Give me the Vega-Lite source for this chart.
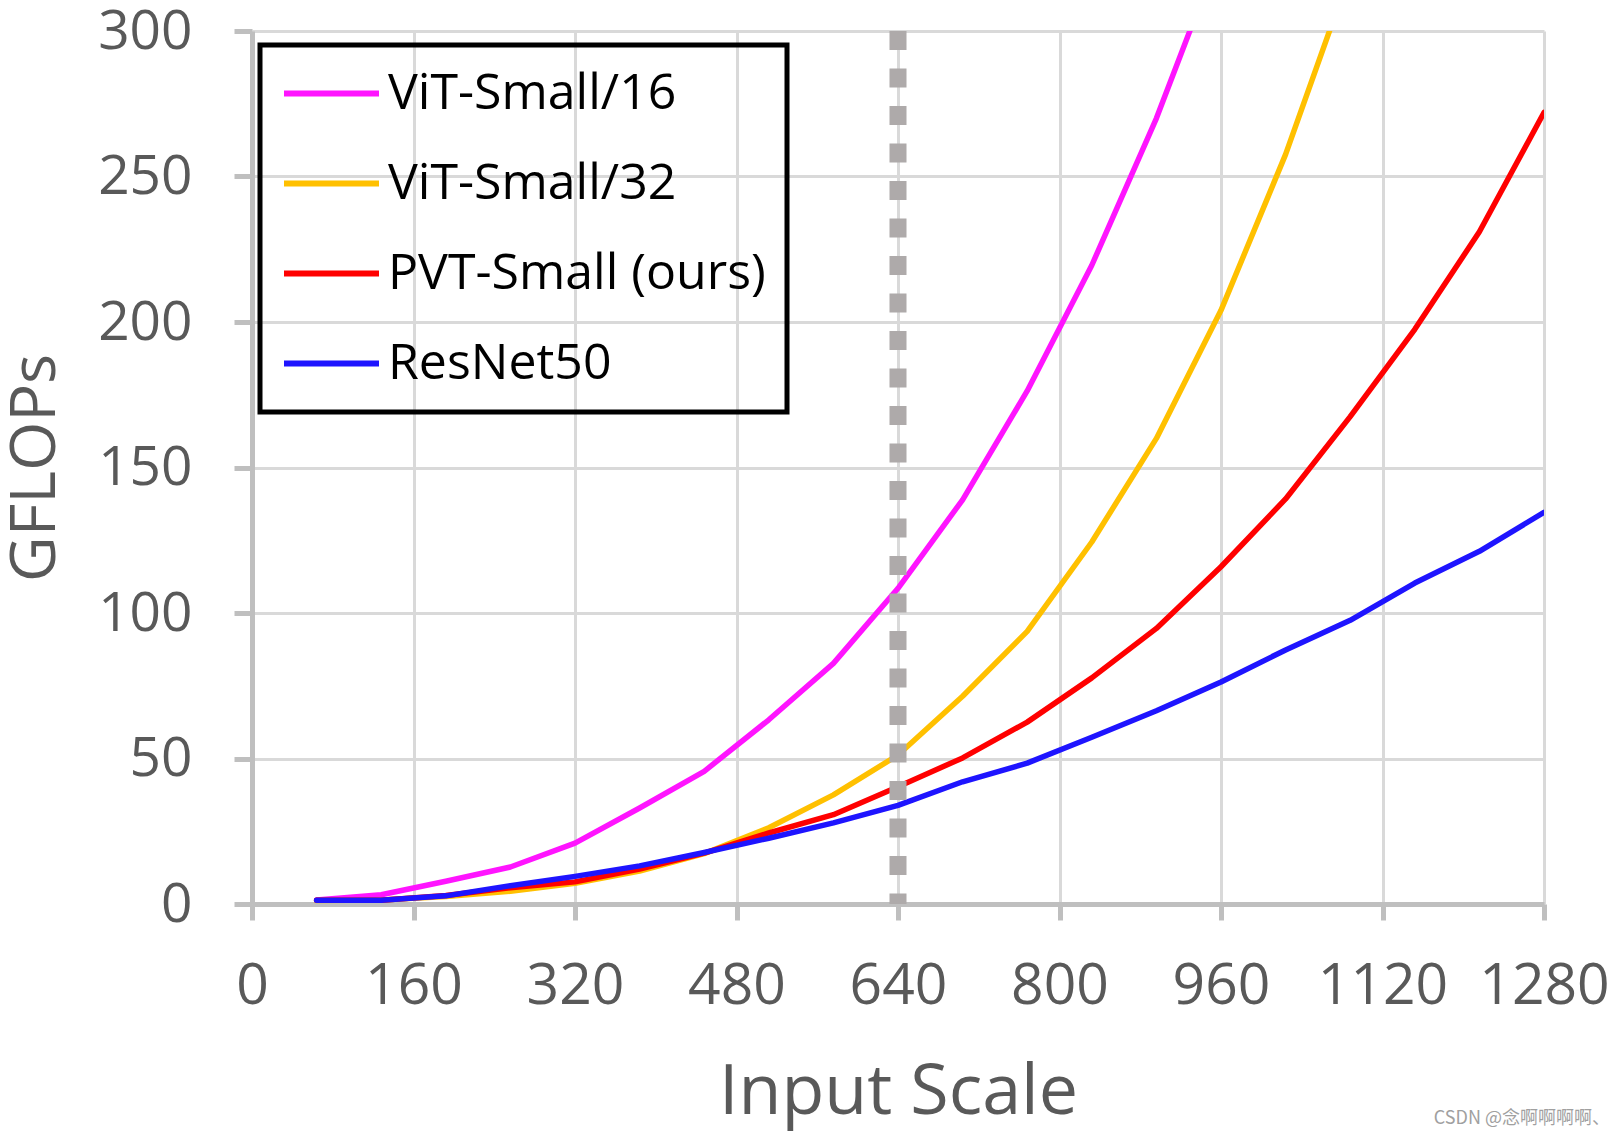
{
  "$schema": "https://vega.github.io/schema/vega-lite/v6.json",
  "width": 1292,
  "height": 873,
  "autosize": {"type": "none"},
  "padding": {"left": 252, "top": 31, "right": 68, "bottom": 233},
  "background": "white",
  "config": {"view": {"stroke": null}},
  "title": {"text": "CSDN @念啊啊啊啊、", "orient": "bottom", "anchor": "end", "frame": "group", "fontSize": 18, "font": "Noto Sans CJK SC", "fontWeight": "normal", "color": "#a0a0a0", "dx": 66, "dy": -21},
  "datasets": {
    "flops": [
      {"model": "ViT-Small/16", "scale": 64, "gflops": 1.4},
      {"model": "ViT-Small/16", "scale": 128, "gflops": 3.2},
      {"model": "ViT-Small/16", "scale": 192, "gflops": 7.8},
      {"model": "ViT-Small/16", "scale": 256, "gflops": 12.7},
      {"model": "ViT-Small/16", "scale": 320, "gflops": 20.9},
      {"model": "ViT-Small/16", "scale": 384, "gflops": 33.0},
      {"model": "ViT-Small/16", "scale": 448, "gflops": 45.6},
      {"model": "ViT-Small/16", "scale": 512, "gflops": 63.3},
      {"model": "ViT-Small/16", "scale": 576, "gflops": 82.7},
      {"model": "ViT-Small/16", "scale": 640, "gflops": 108.5},
      {"model": "ViT-Small/16", "scale": 704, "gflops": 138.9},
      {"model": "ViT-Small/16", "scale": 768, "gflops": 176.3},
      {"model": "ViT-Small/16", "scale": 832, "gflops": 219.5},
      {"model": "ViT-Small/16", "scale": 896, "gflops": 270.0},
      {"model": "ViT-Small/16", "scale": 960, "gflops": 328.0},
      {"model": "ViT-Small/32", "scale": 64, "gflops": 1.2},
      {"model": "ViT-Small/32", "scale": 128, "gflops": 1.4},
      {"model": "ViT-Small/32", "scale": 192, "gflops": 2.6},
      {"model": "ViT-Small/32", "scale": 256, "gflops": 4.4},
      {"model": "ViT-Small/32", "scale": 320, "gflops": 7.1},
      {"model": "ViT-Small/32", "scale": 384, "gflops": 11.3},
      {"model": "ViT-Small/32", "scale": 448, "gflops": 17.3},
      {"model": "ViT-Small/32", "scale": 512, "gflops": 26.2},
      {"model": "ViT-Small/32", "scale": 576, "gflops": 37.5},
      {"model": "ViT-Small/32", "scale": 640, "gflops": 51.2},
      {"model": "ViT-Small/32", "scale": 704, "gflops": 71.4},
      {"model": "ViT-Small/32", "scale": 768, "gflops": 93.7},
      {"model": "ViT-Small/32", "scale": 832, "gflops": 124.4},
      {"model": "ViT-Small/32", "scale": 896, "gflops": 160.0},
      {"model": "ViT-Small/32", "scale": 960, "gflops": 204.0},
      {"model": "ViT-Small/32", "scale": 1024, "gflops": 257.6},
      {"model": "ViT-Small/32", "scale": 1088, "gflops": 320.0},
      {"model": "PVT-Small (ours)", "scale": 64, "gflops": 1.3},
      {"model": "PVT-Small (ours)", "scale": 128, "gflops": 1.3},
      {"model": "PVT-Small (ours)", "scale": 192, "gflops": 2.9},
      {"model": "PVT-Small (ours)", "scale": 256, "gflops": 5.6},
      {"model": "PVT-Small (ours)", "scale": 320, "gflops": 7.6},
      {"model": "PVT-Small (ours)", "scale": 384, "gflops": 12.0},
      {"model": "PVT-Small (ours)", "scale": 448, "gflops": 17.5},
      {"model": "PVT-Small (ours)", "scale": 512, "gflops": 24.4},
      {"model": "PVT-Small (ours)", "scale": 576, "gflops": 30.7},
      {"model": "PVT-Small (ours)", "scale": 640, "gflops": 40.3},
      {"model": "PVT-Small (ours)", "scale": 704, "gflops": 50.2},
      {"model": "PVT-Small (ours)", "scale": 768, "gflops": 62.5},
      {"model": "PVT-Small (ours)", "scale": 832, "gflops": 77.7},
      {"model": "PVT-Small (ours)", "scale": 896, "gflops": 94.7},
      {"model": "PVT-Small (ours)", "scale": 960, "gflops": 115.9},
      {"model": "PVT-Small (ours)", "scale": 1024, "gflops": 139.2},
      {"model": "PVT-Small (ours)", "scale": 1088, "gflops": 167.5},
      {"model": "PVT-Small (ours)", "scale": 1152, "gflops": 197.5},
      {"model": "PVT-Small (ours)", "scale": 1216, "gflops": 231.0},
      {"model": "PVT-Small (ours)", "scale": 1280, "gflops": 272.0},
      {"model": "ResNet50", "scale": 64, "gflops": 1.3},
      {"model": "ResNet50", "scale": 128, "gflops": 1.3},
      {"model": "ResNet50", "scale": 192, "gflops": 2.8},
      {"model": "ResNet50", "scale": 256, "gflops": 6.3},
      {"model": "ResNet50", "scale": 320, "gflops": 9.5},
      {"model": "ResNet50", "scale": 384, "gflops": 13.1},
      {"model": "ResNet50", "scale": 448, "gflops": 17.7},
      {"model": "ResNet50", "scale": 512, "gflops": 22.6},
      {"model": "ResNet50", "scale": 576, "gflops": 27.9},
      {"model": "ResNet50", "scale": 640, "gflops": 33.9},
      {"model": "ResNet50", "scale": 704, "gflops": 42.0},
      {"model": "ResNet50", "scale": 768, "gflops": 48.4},
      {"model": "ResNet50", "scale": 832, "gflops": 57.3},
      {"model": "ResNet50", "scale": 896, "gflops": 66.4},
      {"model": "ResNet50", "scale": 960, "gflops": 76.3},
      {"model": "ResNet50", "scale": 1024, "gflops": 87.3},
      {"model": "ResNet50", "scale": 1088, "gflops": 97.5},
      {"model": "ResNet50", "scale": 1152, "gflops": 110.3},
      {"model": "ResNet50", "scale": 1216, "gflops": 121.2},
      {"model": "ResNet50", "scale": 1280, "gflops": 134.6}
    ],
    "marker": [{"scale": 640}]
  },
  "layer": [
    {
      "data": {"name": "flops"},
      "mark": {"type": "line", "clip": true, "strokeWidth": 5.5, "strokeJoin": "round", "strokeCap": "round"},
      "encoding": {
        "x": {
          "field": "scale", "type": "quantitative",
          "scale": {"domain": [0, 1280], "nice": false, "zero": false},
          "axis": {
            "values": [0, 160, 320, 480, 640, 800, 960, 1120, 1280],
            "format": "d",
            "title": "Input Scale",
            "labelFont": "Open Sans", "labelFontSize": 57, "labelColor": "#595959",
            "labelPadding": 38, "labelFlush": false, "labelOverlap": false,
            "tickSize": 16, "tickWidth": 5, "tickColor": "#BFBFBF",
            "domainColor": "#BFBFBF", "domainWidth": 5,
            "gridColor": "#D9D9D9", "gridWidth": 3,
            "titleFont": "Open Sans", "titleFontSize": 70, "titleFontWeight": "normal", "titleColor": "#595959", "titlePadding": 44
          }
        },
        "y": {
          "field": "gflops", "type": "quantitative",
          "scale": {"domain": [0, 300], "nice": false},
          "axis": {
            "values": [0, 50, 100, 150, 200, 250, 300],
            "format": "d",
            "title": "GFLOPs",
            "labelFont": "Open Sans", "labelFontSize": 55, "labelColor": "#595959",
            "labelPadding": 42, "labelOverlap": false, "labelFlush": false,
            "tickSize": 18, "tickWidth": 5, "tickColor": "#BFBFBF",
            "domainColor": "#BFBFBF", "domainWidth": 5,
            "gridColor": "#D9D9D9", "gridWidth": 3,
            "titleFont": "Open Sans", "titleFontSize": 63, "titleFontWeight": "normal", "titleColor": "#595959", "titlePadding": 30
          }
        },
        "color": {
          "field": "model", "type": "nominal",
          "scale": {
            "domain": ["ViT-Small/16", "ViT-Small/32", "PVT-Small (ours)", "ResNet50"],
            "range": ["#FF14FF", "#FFC000", "#FF0000", "#1E14FF"]
          },
          "legend": {
            "title": null,
            "orient": "none", "legendX": 8, "legendY": 14,
            "symbolType": "stroke", "symbolSize": 9025, "symbolStrokeWidth": 6,
            "labelFont": "Open Sans", "labelFontSize": 50, "labelColor": "#000000", "labelLimit": 800, "labelOffset": 6,
            "clipHeight": 55, "rowPadding": 35,
            "padding": 21, "strokeColor": "#000000",
            "encode": {"legend": {"update": {"strokeWidth": {"value": 5}}}}
          }
        }
      }
    },
    {
      "data": {"name": "marker"},
      "mark": {"type": "rule", "color": "#AEAAAA", "strokeWidth": 17, "strokeDash": [19, 18.5], "strokeCap": "butt"},
      "encoding": {"x": {"field": "scale", "type": "quantitative"}}
    }
  ]
}
